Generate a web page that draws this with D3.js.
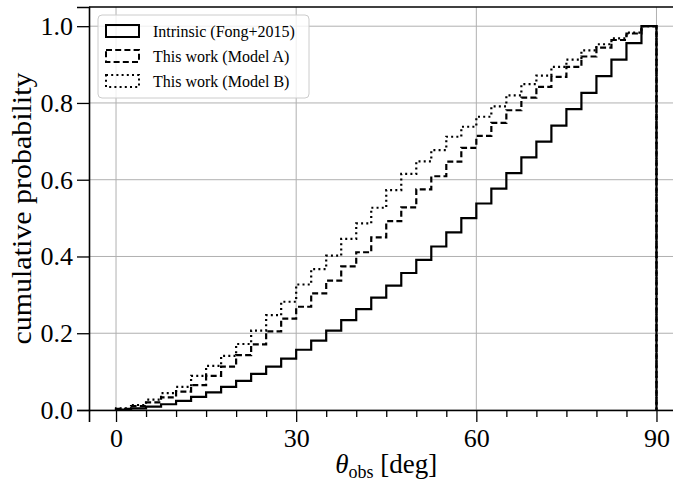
<!DOCTYPE html>
<html lang="en">
  <head>
    <meta charset="UTF-8" />
    <title>Cumulative distribution of viewing angle</title>
    <script src="https://d3js.org/d3.v7.min.js"></script>
    <style>
      body {
        margin: 0;
        background: #fff;
      }
      svg text {
        font-family: "Liberation Serif", "DejaVu Serif", serif;
        fill: #000;
      }
    </style>
  </head>
  <body>
    <div id="chart"></div>

    <script>
      // bin edges in degrees (36 bins of 2.5 deg)
      const binEdges = d3.range(0, 90.001, 2.5);

      // cumulative fraction at the right edge of each bin
      const intrinsic = [
        0.001, 0.004, 0.009, 0.015, 0.024, 0.034, 0.046, 0.06, 0.076, 0.094,
        0.113, 0.134, 0.157, 0.181, 0.207, 0.234, 0.263, 0.293, 0.324, 0.357,
        0.391, 0.426, 0.463, 0.5, 0.538, 0.577, 0.617, 0.658, 0.699, 0.741,
        0.784, 0.826, 0.87, 0.913, 0.956, 1.0,
      ];
      const modelA = [
        0.003, 0.01, 0.02, 0.033, 0.048, 0.065, 0.089, 0.113, 0.143, 0.171,
        0.205, 0.238, 0.269, 0.304, 0.337, 0.374, 0.411, 0.45, 0.492, 0.528,
        0.575, 0.609, 0.647, 0.683, 0.714, 0.748, 0.781, 0.814, 0.842, 0.868,
        0.894, 0.921, 0.944, 0.964, 0.981, 1.0,
      ];
      const modelB = [
        0.004, 0.013, 0.027, 0.044, 0.06, 0.089, 0.115, 0.141, 0.172, 0.207,
        0.247, 0.282, 0.327, 0.367, 0.402, 0.446, 0.486, 0.527, 0.573, 0.615,
        0.648, 0.677, 0.712, 0.738, 0.764, 0.791, 0.82, 0.849, 0.871, 0.894,
        0.913, 0.937, 0.953, 0.968, 0.983, 1.0,
      ];

      const seriesLabels = [
        "Intrinsic (Fong+2015)",
        "This work (Model A)",
        "This work (Model B)",
      ];
      const xTicks = [0, 30, 60, 90];
      const yTicks = [0, 0.2, 0.4, 0.6, 0.8, 1.0];

      const series = [
        { label: seriesLabels[0], values: intrinsic, dash: null },
        { label: seriesLabels[1], values: modelA, dash: "6,3.2" },
        { label: seriesLabels[2], values: modelB, dash: "2,3.2" },
      ];

      const width = 673;
      const height = 483;
      const plot = { left: 89, right: 683.5, top: 7, bottom: 410 };

      const x = d3
        .scaleLinear()
        .domain([-4.5, 94.5])
        .range([plot.left, plot.right]);
      const y = d3.scaleLinear().domain([0, 1.05]).range([plot.bottom, plot.top]);

      const svg = d3
        .select("#chart")
        .append("svg")
        .attr("width", width)
        .attr("height", height);

      // grid
      const grid = svg.append("g").attr("stroke", "#b0b0b0").attr("stroke-width", 1);
      grid
        .selectAll("line.gx")
        .data(xTicks)
        .enter()
        .append("line")
        .attr("x1", (d) => x(d))
        .attr("x2", (d) => x(d))
        .attr("y1", plot.top)
        .attr("y2", plot.bottom);
      grid
        .selectAll("line.gy")
        .data(yTicks)
        .enter()
        .append("line")
        .attr("x1", plot.left)
        .attr("x2", plot.right)
        .attr("y1", (d) => y(d))
        .attr("y2", (d) => y(d));

      // step histograms (cumulative)
      const line = d3
        .line()
        .x((d) => x(d[0]))
        .y((d) => y(d[1]))
        .curve(d3.curveStepBefore);

      series.forEach((s) => {
        const pts = [[binEdges[0], 0]];
        s.values.forEach((v, i) => pts.push([binEdges[i + 1], v]));
        pts.push([binEdges[binEdges.length - 1], 0]);
        svg
          .append("path")
          .attr("d", line(pts))
          .attr("fill", "none")
          .attr("stroke", "#000")
          .attr("stroke-width", 2.2)
          .attr("stroke-dasharray", s.dash);
      });

      // axes
      const xAxis = svg
        .append("g")
        .attr("transform", `translate(0,${plot.bottom})`)
        .call(d3.axisBottom(x).tickValues(xTicks).tickSize(12).tickPadding(6));
      svg
        .append("g")
        .attr("transform", `translate(0,${plot.bottom})`)
        .call(
          d3
            .axisBottom(x)
            .tickValues(d3.range(0, 91, 5).filter((d) => d % 30 !== 0))
            .tickSize(7)
            .tickFormat("")
        )
        .call((g) => g.select(".domain").remove());
      const yAxis = svg
        .append("g")
        .attr("transform", `translate(${plot.left},0)`)
        .call(
          d3
            .axisLeft(y)
            .tickValues(yTicks)
            .tickFormat(d3.format(".1f"))
            .tickSize(12)
            .tickPadding(4)
        );

      svg.selectAll(".tick line").attr("stroke", "#000").attr("stroke-width", 1.3);
      svg.selectAll(".domain").attr("stroke", "#000").attr("stroke-width", 1.6);
      xAxis.selectAll("text").attr("font-size", 26).attr("dy", "0.72em");
      yAxis.selectAll("text").attr("font-size", 26);

      // top spine
      svg
        .append("line")
        .attr("x1", plot.left)
        .attr("x2", plot.right)
        .attr("y1", plot.top)
        .attr("y2", plot.top)
        .attr("stroke", "#000")
        .attr("stroke-width", 1.6);

      // axis labels
      const xl = svg
        .append("text")
        .attr("x", (plot.left + plot.right) / 2)
        .attr("y", 473)
        .attr("text-anchor", "middle")
        .attr("font-size", 27);
      xl.append("tspan").attr("font-style", "italic").text("θ");
      xl.append("tspan").attr("font-size", 18).attr("dy", 5).text("obs");
      xl.append("tspan").attr("dy", -5).text(" [deg]");

      svg
        .append("text")
        .attr("transform", `translate(31,${(plot.top + plot.bottom) / 2}) rotate(-90)`)
        .attr("text-anchor", "middle")
        .attr("font-size", 28)
        .attr("textLength", 272)
        .attr("lengthAdjust", "spacingAndGlyphs")
        .text("cumulative probability");

      // legend
      const legend = svg.append("g").attr("transform", "translate(98,15)");
      legend
        .append("rect")
        .attr("width", 211)
        .attr("height", 83)
        .attr("rx", 4)
        .attr("fill", "rgba(255,255,255,0.8)")
        .attr("stroke", "#ccc");

      const items = legend
        .selectAll(".legend-item")
        .data(series)
        .enter()
        .append("g")
        .attr("class", "legend-item")
        .attr("transform", (d, i) => `translate(0, ${16 + i * 25})`);

      items
        .append("rect")
        .attr("x", 8)
        .attr("y", -6)
        .attr("width", 33)
        .attr("height", 12)
        .attr("fill", "none")
        .attr("stroke", "#000")
        .attr("stroke-width", 2)
        .attr("stroke-dasharray", (d) => d.dash);

      items
        .append("text")
        .attr("x", 55)
        .attr("y", 5.5)
        .attr("font-size", 16)
        .text((d) => d.label);
    </script>
  </body>
</html>
